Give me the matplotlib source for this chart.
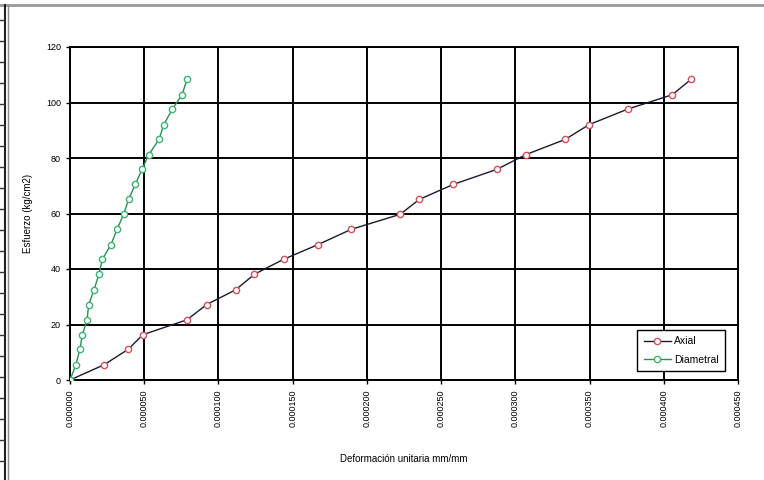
import matplotlib.pyplot as plt
from matplotlib.lines import Line2D
import numpy as np

# Esfuerzo aplicado (kg/cm2), común a ambas lecturas
esfuerzo = [0, 5.5, 11.1, 16.3, 21.7, 27.2, 32.5, 38.1, 43.5, 48.8, 54.3,
            59.7, 65.1, 70.5, 75.9, 81.2, 86.7, 92.0, 97.6, 102.8, 108.3]

# Deformación unitaria axial (mm/mm)
def_axial = [0, 0.0000230, 0.0000393, 0.0000490, 0.0000788, 0.0000921,
             0.0001116, 0.0001242, 0.0001439, 0.0001671, 0.0001895,
             0.0002224, 0.0002354, 0.0002583, 0.0002875, 0.0003070,
             0.0003336, 0.0003496, 0.0003756, 0.0004057, 0.0004183]

# Deformación unitaria diametral (mm/mm)
def_diametral = [0, 0.0000040, 0.0000067, 0.0000083, 0.0000115, 0.0000126,
                 0.0000162, 0.0000195, 0.0000218, 0.0000276, 0.0000317,
                 0.0000361, 0.0000395, 0.0000440, 0.0000485, 0.0000530,
                 0.0000600, 0.0000631, 0.0000690, 0.0000755, 0.0000788]

x_ticks = np.arange(0, 0.00045 + 1e-9, 0.00005)
y_ticks = [0, 20, 40, 60, 80, 100, 120]

plt.rcParams['font.family'] = ['Liberation Sans', 'DejaVu Sans']

fig = plt.figure(figsize=(7.64, 4.8), dpi=100)
ax = fig.add_axes([70 / 764, 1 - 380 / 480, 668 / 764, 333 / 480])

ax.plot(def_axial, esfuerzo, color='#1a1a2e', lw=1.0, marker='o', ms=4.5,
        mfc='white', mec='#d0505a', mew=1.0, label='Axial', zorder=3)
ax.plot(def_diametral, esfuerzo, color='#2e8b57', lw=1.0, marker='o', ms=4.5,
        mfc='white', mec='#3cb371', mew=1.0, label='Diametral', zorder=3)

ax.set_xlim(0, 0.00045)
ax.set_ylim(0, 120)
ax.set_xticks(x_ticks)
ax.set_xticklabels(['%.6f' % v for v in x_ticks], rotation=90, fontsize=6.5)
ax.set_yticks(y_ticks)
ax.set_yticklabels([str(v) for v in y_ticks], fontsize=6.5)
ax.tick_params(axis='both', direction='out', length=3, width=1.0, color='black')
ax.grid(True, color='black', lw=1.4)
ax.set_axisbelow(True)
for sp in ax.spines.values():
    sp.set_linewidth(1.4)

ax.set_xlabel('Deformación unitaria mm/mm', fontsize=7, labelpad=20)
ax.set_ylabel('Esfuerzo (kg/cm2)', fontsize=7, labelpad=9)

leg = ax.legend(loc='lower right', bbox_to_anchor=(0.988, 0.012), fontsize=7.5,
                frameon=True, fancybox=False, framealpha=1, edgecolor='black',
                handlelength=2.6, borderpad=0.6, labelspacing=0.8,
                handletextpad=0.3)
leg.get_frame().set_linewidth(1.0)

# Marco de la hoja alrededor del gráfico
fig.add_artist(Line2D([0, 1], [1 - 5 / 480] * 2, color='#999999', lw=2))
fig.add_artist(Line2D([5 / 764] * 2, [0, 1 - 5 / 480], color='#222222', lw=1.5))
fig.add_artist(Line2D([8 / 764] * 2, [0, 1 - 5 / 480], color='#888888', lw=1))
for yp in range(20, 480, 21):
    fig.add_artist(Line2D([0, 4 / 764], [1 - yp / 480] * 2, color='#333333', lw=1))

fig.savefig('out.png', dpi=100)
